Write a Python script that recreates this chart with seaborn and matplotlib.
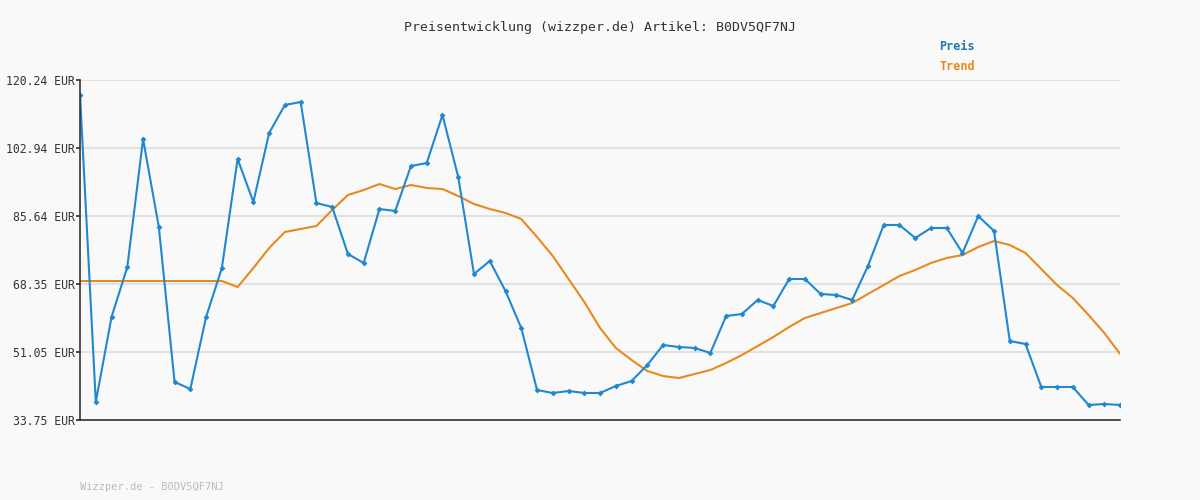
import matplotlib
matplotlib.use("Agg")
import matplotlib.pyplot as plt
import seaborn as sns
import pandas as pd
import numpy as np

preis = [116.42,38.33,59.95,72.67,105.23,82.85,43.42,41.64,59.95,72.42,100.14,89.20,106.76,113.88,114.65,88.95,87.93,75.98,73.69,87.42,86.92,98.36,99.13,111.34,95.57,70.89,74.20,66.57,57.15,41.38,40.62,41.13,40.62,40.62,42.40,43.67,47.74,52.83,52.32,52.07,50.80,60.21,60.71,64.28,62.75,69.62,69.62,65.80,65.55,64.28,72.93,83.36,83.36,80.05,82.59,82.59,76.23,85.64,81.83,53.85,53.08,42.15,42.15,42.15,37.57,37.82,37.57]
trend = [69.11]*10 + [67.58,72.42,77.50,81.57,82.34,83.10,87.17,90.99,92.26,93.78,92.51,93.53,92.77,92.51,90.73,88.70,87.42,86.41,84.88,80.30,75.47,69.62,63.77,57.15,52.07,49.01,46.22,44.94,44.43,45.45,46.47,48.25,50.28,52.58,54.87,57.41,59.70,60.97,62.24,63.51,65.80,68.09,70.38,71.91,73.69,74.96,75.72,77.76,79.28,78.26,76.23,72.16,68.09,64.78,60.46,55.88,50.56]
yticks = [33.75, 51.05, 68.35, 85.64, 102.94, 120.24]
ylabels = ["33.75 EUR","51.05 EUR","68.35 EUR","85.64 EUR","102.94 EUR","120.24 EUR"]

sns.set_theme(style="white")
plt.rcParams['font.family'] = ['DejaVu Sans Mono']
df = pd.DataFrame({"i": np.arange(len(preis)), "Preis": preis, "Trend": trend})

fig = plt.figure(figsize=(12, 5), dpi=100, facecolor="#f9f9f9")
ax = fig.add_axes([0.0667, 0.16, 0.8667, 0.68])
ax.set_facecolor("#f9f9f9")
for t in yticks:
    ax.axhline(t, color="#e2e2e2", lw=1.5, zorder=0)
sns.lineplot(data=df, x="i", y="Trend", ax=ax, color="#e8891e", lw=1.5)
sns.lineplot(data=df, x="i", y="Preis", ax=ax, color="#1f88d0", lw=1.5,
             marker="D", markersize=3, markeredgewidth=0)
ax.set_xlim(0, len(preis) - 1)
ax.set_ylim(33.75, 120.24)
ax.set_yticks(yticks)
ax.set_yticklabels(ylabels, fontsize=8.3, color="#333333")
ax.set_xticks([])
ax.set_xlabel(""); ax.set_ylabel("")
for s in ["top", "right"]:
    ax.spines[s].set_visible(False)
for s in ["left", "bottom"]:
    ax.spines[s].set_color("#333333"); ax.spines[s].set_linewidth(1.2)
ax.tick_params(axis="y", length=3, pad=1, color="#333333", left=True)

fig.text(0.5, 0.944, "Preisentwicklung (wizzper.de) Artikel: B0DV5QF7NJ", ha="center", va="center", fontsize=9.5, color="#333333")
fig.text(0.783, 0.907, "Preis", color="#1f78b4", fontsize=8.5, fontweight="bold", va="center")
fig.text(0.783, 0.866, "Trend", color="#e8891e", fontsize=8.5, fontweight="bold", va="center")
fig.text(0.0667, 0.026, "Wizzper.de - B0DV5QF7NJ", color="#bbbbbb", fontsize=7.5, va="center")
fig.savefig("out.png", dpi=100, facecolor=fig.get_facecolor())
